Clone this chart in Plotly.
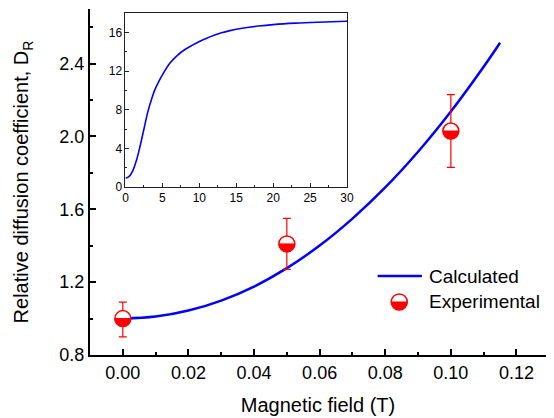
import math
import plotly.graph_objects as go

# ---------------- data ----------------
calc_x = [0.0, 0.01, 0.02, 0.03, 0.04, 0.05, 0.06, 0.07, 0.08, 0.09, 0.10, 0.11, 0.115]
calc_y = [1.000, 1.011, 1.044, 1.099, 1.176, 1.277, 1.401, 1.549, 1.720, 1.916, 2.137, 2.383, 2.515]

exp_x = [0.00, 0.05, 0.10]
exp_y = [1.00, 1.41, 2.03]
exp_err_plus = [0.09, 0.14, 0.20]
exp_err_minus = [0.10, 0.14, 0.20]

inset_x = [0, 0.5, 1, 1.5, 2, 2.5, 3, 3.5, 4, 4.5, 5, 6, 7, 8, 9, 10, 11, 12, 13, 14, 16, 18, 20, 23, 26, 30]
inset_y = [0.9, 1.1, 1.7, 2.8, 4.3, 6.0, 7.7, 9.0, 10.1, 10.9, 11.6, 12.8, 13.6, 14.2, 14.65, 15.05, 15.4, 15.7,
           15.95, 16.15, 16.45, 16.65, 16.8, 16.95, 17.05, 17.15]

legend_labels = ["Calculated", "Experimental"]

FONT = "Arial, Liberation Sans, sans-serif"
RED = "#FF0000"
BLUE = "#0000FF"
MR = 8  # marker radius in px


def half_disk_path(r, n=24):
    pts = []
    for i in range(n + 1):
        a = math.pi + math.pi * i / n  # lower half (pixel-mode y is positive upwards)
        pts.append((r * math.cos(a), r * math.sin(a)))
    return "M " + " L ".join(f"{px:.2f},{py:.2f}" for px, py in pts) + " Z"


fig = go.Figure()

fig.add_trace(go.Scatter(
    x=calc_x, y=calc_y, mode="lines", line=dict(color=BLUE, width=2.5, shape="spline"),
    name=legend_labels[0], showlegend=False, xaxis="x", yaxis="y"))

fig.add_trace(go.Scatter(
    x=exp_x, y=exp_y, mode="markers",
    marker=dict(symbol="circle", size=2 * MR, color="white", line=dict(color=RED, width=1.5)),
    error_y=dict(type="data", array=exp_err_plus, arrayminus=exp_err_minus, color=RED, thickness=1.2, width=4),
    name=legend_labels[1], showlegend=False, xaxis="x", yaxis="y"))

fig.add_trace(go.Scatter(
    x=inset_x, y=inset_y, mode="lines", line=dict(color=BLUE, width=1.6, shape="spline", smoothing=1.0),
    showlegend=False, xaxis="x2", yaxis="y2"))

shapes = []
hp = half_disk_path(MR - 0.3)
for xv, yv in zip(exp_x, exp_y):
    shapes.append(dict(type="path", xref="x", yref="y", xsizemode="pixel", ysizemode="pixel",
                       xanchor=xv, yanchor=yv, path=hp, fillcolor=RED, line=dict(color=RED, width=1),
                       layer="above"))

# legend drawn by hand
shapes.append(dict(type="line", xref="paper", yref="paper", x0=0.6307, x1=0.7279, y0=0.2283, y1=0.2283,
                   line=dict(color=BLUE, width=2.5)))
shapes.append(dict(type="circle", xref="paper", yref="paper", xsizemode="pixel", ysizemode="pixel",
                   xanchor=0.6782, yanchor=0.1532, x0=-MR, x1=MR, y0=-MR, y1=MR,
                   fillcolor="white", line=dict(color=RED, width=1.5)))
shapes.append(dict(type="path", xref="paper", yref="paper", xsizemode="pixel", ysizemode="pixel",
                   xanchor=0.6782, yanchor=0.1532, path=hp, fillcolor=RED, line=dict(color=RED, width=1)))

annotations = [
    dict(x=0.7387, y=0.2283, xref="paper", yref="paper", text=legend_labels[0], showarrow=False,
         xanchor="left", yanchor="middle", font=dict(family=FONT, size=19, color="black")),
    dict(x=0.7387, y=0.1532, xref="paper", yref="paper", text=legend_labels[1], showarrow=False,
         xanchor="left", yanchor="middle", font=dict(family=FONT, size=19, color="black")),
]

fig.update_layout(
    width=554, height=418,
    margin=dict(l=90, r=1, t=9, b=63),
    paper_bgcolor="white", plot_bgcolor="white",
    font=dict(family=FONT, color="black"),
    showlegend=False,
    shapes=shapes,
    annotations=annotations,
    xaxis=dict(
        range=[-0.01, 0.129], domain=[0, 1], anchor="y",
        tick0=0, dtick=0.02, tickformat=".2f",
        showline=True, linecolor="black", linewidth=2, mirror=False,
        ticks="inside", ticklen=6, tickwidth=2, tickcolor="black",
        minor=dict(ticks="inside", ticklen=3, tickwidth=2, dtick=0.01, tickcolor="black"),
        showgrid=False, zeroline=False,
        tickfont=dict(size=18, family=FONT, color="black"),
        title=dict(text="Magnetic field (T)", font=dict(size=20, family=FONT, color="black"), standoff=16),
    ),
    yaxis=dict(
        range=[0.8, 2.7], domain=[0, 1], anchor="x",
        tick0=0.8, dtick=0.4, tickformat=".1f",
        showline=True, linecolor="black", linewidth=2, mirror=False,
        ticks="inside", ticklen=6, tickwidth=2, tickcolor="black",
        minor=dict(ticks="inside", ticklen=3, tickwidth=2, dtick=0.2, tickcolor="black"),
        showgrid=False, zeroline=False,
        tickfont=dict(size=18, family=FONT, color="black"),
        title=dict(text="Relative diffusion coefficient, D<sub>R</sub>",
                   font=dict(size=20, family=FONT, color="black"), standoff=25),
    ),
    xaxis2=dict(
        range=[0, 30], domain=[0.0778, 0.5637], anchor="y2",
        tick0=0, dtick=5,
        showline=True, linecolor="#222222", linewidth=1, mirror=True,
        ticks="inside", ticklen=4, tickwidth=1, tickcolor="#222222",
        minor=dict(ticks="inside", ticklen=2, tickwidth=1, dtick=2.5, tickcolor="#222222"),
        showgrid=False, zeroline=False,
        tickfont=dict(size=12, family=FONT, color="black"),
    ),
    yaxis2=dict(
        range=[0, 18], domain=[0.4855, 0.9884], anchor="x2",
        tick0=0, dtick=4,
        showline=True, linecolor="#222222", linewidth=1, mirror=True,
        ticks="inside", ticklen=4, tickwidth=1, tickcolor="#222222",
        minor=dict(ticks="inside", ticklen=2, tickwidth=1, dtick=2, tickcolor="#222222"),
        showgrid=False, zeroline=False,
        tickfont=dict(size=12, family=FONT, color="black"),
    ),
)

fig.write_html("out.html")
